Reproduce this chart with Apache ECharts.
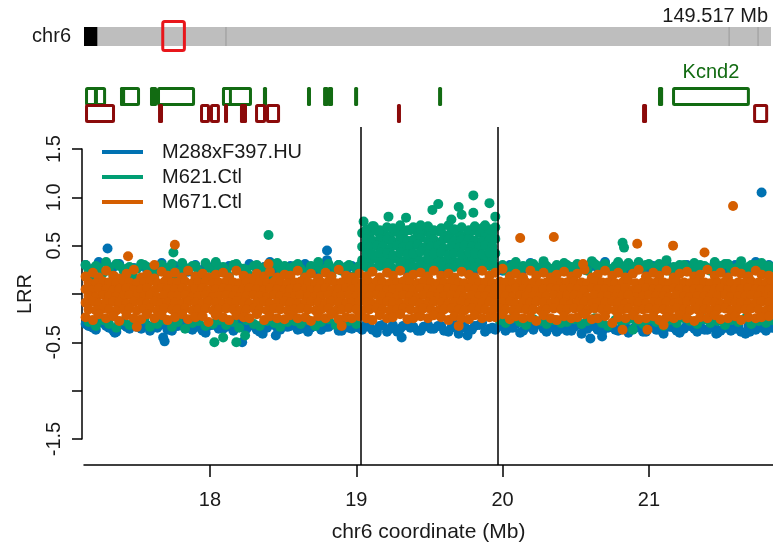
<!DOCTYPE html>
<html>
<head>
<meta charset="utf-8">
<script src="https://cdn.jsdelivr.net/npm/echarts@6/dist/echarts.min.js"></script>
<style>
  html, body { margin: 0; padding: 0; background: #fff; }
  #chart { width: 773px; height: 548px; }
</style>
</head>
<body>
<div id="chart"></div>
<script>
// ---------- data ----------
const chromName = 'chr6';
const chromLength = 149.517; // Mb
const chromDark = [0, 2.9];
const chromMarks = [30.9, 140.4, 146.7];
const viewRange = [17.139, 21.848];
const cnvBounds = [19.031, 19.972];
const xTicks = [18, 19, 20, 21];
const yLabelShown = [1.5, 1, 0.5, -0.5, -1.5];
const seriesNames = ['M288xF397.HU', 'M621.Ctl', 'M671.Ctl'];

// genes: [start, end, track (0 top / 1 bottom), label]
const genes = [
  [17.146, 17.29, 0], [17.207, 17.228, 0], [17.385, 17.522, 0], [17.385, 17.42, 0],
  [17.59, 17.638, 0], [17.638, 17.898, 0], [18.082, 18.287, 0], [18.082, 18.15, 0],
  [18.362, 18.39, 0], [18.663, 18.684, 0], [18.773, 18.81, 0], [18.805, 18.841, 0],
  [18.985, 19.005, 0], [19.559, 19.586, 0], [21.062, 21.097, 0], [21.158, 21.69, 0, 'Kcnd2'],
  [17.146, 17.351, 1], [17.645, 17.679, 1], [17.932, 18.0, 1], [18.0, 18.068, 1],
  [18.096, 18.123, 1], [18.205, 18.253, 1], [18.308, 18.383, 1], [18.383, 18.479, 1],
  [19.278, 19.299, 1], [20.953, 20.987, 1], [21.712, 21.815, 1]
];

// probe positions (Mb), two interleaved sets
const posA = [
  17.15, 17.20, 17.24, 17.29, 17.34, 17.38, 17.43, 17.48, 17.53, 17.57,
  17.62, 17.67, 17.71, 17.76, 17.81, 17.85, 17.90, 17.95, 17.99, 18.04,
  18.09, 18.13, 18.18, 18.23, 18.27, 18.32, 18.37, 18.41, 18.46, 18.51,
  18.55, 18.60, 18.65, 18.69, 18.74, 18.79, 18.83, 18.88, 18.93, 18.97,
  19.02, 19.07, 19.11, 19.16, 19.21, 19.25, 19.30, 19.35, 19.39, 19.44,
  19.49, 19.53, 19.58, 19.63, 19.67, 19.72, 19.77, 19.81, 19.86, 19.91,
  19.95, 20.00, 20.05, 20.09, 20.14, 20.19, 20.23, 20.28, 20.33, 20.37,
  20.42, 20.47, 20.51, 20.56, 20.61, 20.65, 20.70, 20.75, 20.79, 20.84,
  20.89, 20.93, 20.98, 21.03, 21.07, 21.12, 21.17, 21.21, 21.26, 21.31,
  21.35, 21.40, 21.45, 21.49, 21.54, 21.59, 21.63, 21.68, 21.73, 21.77,
  21.82
];
const posB = [
  17.17, 17.22, 17.27, 17.31, 17.36, 17.41, 17.45, 17.50, 17.55, 17.59,
  17.64, 17.69, 17.74, 17.78, 17.83, 17.88, 17.92, 17.97, 18.02, 18.06,
  18.11, 18.16, 18.20, 18.25, 18.30, 18.34, 18.39, 18.44, 18.48, 18.53,
  18.58, 18.62, 18.67, 18.72, 18.76, 18.81, 18.86, 18.90, 18.95, 19.00,
  19.04, 19.09, 19.14, 19.18, 19.23, 19.28, 19.32, 19.37, 19.42, 19.46,
  19.51, 19.56, 19.60, 19.65, 19.70, 19.74, 19.79, 19.84, 19.88, 19.93,
  19.98, 20.02, 20.07, 20.12, 20.16, 20.21, 20.26, 20.30, 20.35, 20.40,
  20.44, 20.49, 20.54, 20.58, 20.63, 20.68, 20.72, 20.77, 20.82, 20.86,
  20.91, 20.96, 21.00, 21.05, 21.10, 21.14, 21.19, 21.24, 21.28, 21.33,
  21.38, 21.42, 21.47, 21.52, 21.56, 21.61, 21.66, 21.70, 21.75, 21.80,
  21.84
];

// LRR x 100 ---- M671.Ctl (orange)
const orange1 = [ // posA, upper edge
  18, 22, 17, 24, 19, 16, 21, 25, 17, 20,
  16, 23, 19, 22, 17, 24, 18, 21, 17, 20,
  22, 17, 24, 19, 16, 21, 18, 23, 17, 20,
  19, 24, 17, 21, 16, 22, 18, 25, 19, 17,
  21, 18, 23, 17, 22, 19, 24, 17, 20, 22,
  18, 24, 19, 21, 17, 23, 20, 17, 24, 19,
  22, 26, 18, 21, 17, 24, 19, 22, 17, 20,
  23, 18, 21, 25, 17, 20, 24, 19, 22, 17,
  21, 25, 18, 22, 19, 24, 17, 21, 23, 18,
  20, 25, 19, 22, 17, 23, 21, 18, 24, 20,
  19
];
const orange2 = [ // posB
  12, 11, 13, 12, 11, 13, 12, 11, 12, 13,
  11, 13, 12, 12, 13, 11, 12, 13, 11, 12,
  13, 12, 11, 12, 13, 12, 11, 13, 12, 11,
  12, 13, 12, 11, 12, 13, 11, 12, 13, 12,
  11, 12, 13, 12, 11, 12, 13, 12, 11, 13,
  12, 11, 12, 13, 12, 11, 13, 12, 12, 11,
  13, 12, 11, 13, 12, 12, 11, 12, 13, 12,
  12, 13, 12, 11, 13, 12, 12, 11, 12, 13,
  11, 12, 13, 12, 12, 11, 13, 12, 11, 12,
  12, 11, 12, 13, 11, 12, 12, 13, 12, 11,
  12
];
const orange3 = [ // posA
  5, 4, 6, 5, 4, 5, 6, 4, 5, 6,
  4, 6, 5, 5, 6, 4, 5, 6, 4, 5,
  6, 5, 4, 5, 6, 5, 4, 6, 5, 4,
  5, 6, 5, 4, 5, 6, 4, 5, 6, 5,
  4, 5, 6, 5, 4, 5, 6, 5, 4, 6,
  5, 4, 5, 6, 5, 4, 6, 5, 5, 4,
  6, 5, 4, 6, 5, 5, 4, 5, 6, 5,
  5, 6, 5, 4, 6, 5, 5, 4, 5, 6,
  4, 5, 6, 5, 5, 4, 6, 5, 4, 5,
  5, 4, 5, 6, 4, 5, 5, 6, 5, 4,
  5
];
const orange4 = [ // posB
  -2, -3, -1, -2, -3, -2, -1, -3, -2, -1,
  -3, -1, -2, -2, -1, -3, -2, -1, -3, -2,
  -1, -2, -3, -2, -1, -2, -3, -1, -2, -3,
  -2, -1, -2, -3, -2, -1, -3, -2, -1, -2,
  -3, -2, -1, -2, -3, -2, -1, -2, -3, -1,
  -2, -3, -2, -1, -2, -3, -1, -2, -2, -3,
  -1, -2, -3, -1, -2, -2, -3, -2, -1, -2,
  -2, -1, -2, -3, -1, -2, -2, -3, -2, -1,
  -3, -2, -1, -2, -2, -3, -1, -2, -3, -2,
  -2, -3, -2, -1, -3, -2, -2, -1, -2, -3,
  -2
];
const orange5 = [ // posA
  -9, -8, -10, -9, -8, -9, -10, -8, -9, -10,
  -8, -10, -9, -9, -10, -8, -9, -10, -8, -9,
  -10, -9, -8, -9, -10, -9, -8, -10, -9, -8,
  -9, -10, -9, -8, -9, -10, -8, -9, -10, -9,
  -8, -9, -10, -9, -8, -9, -10, -9, -8, -10,
  -9, -8, -9, -10, -9, -8, -10, -9, -9, -8,
  -10, -9, -8, -10, -9, -9, -8, -9, -10, -9,
  -9, -10, -9, -8, -10, -9, -9, -8, -9, -10,
  -8, -9, -10, -9, -9, -8, -10, -9, -8, -9,
  -9, -8, -9, -10, -8, -9, -9, -10, -9, -8,
  -9
];
const orange6 = [ // posB
  -16, -17, -15, -16, -17, -16, -15, -17, -16, -15,
  -17, -15, -16, -16, -15, -17, -16, -15, -17, -16,
  -15, -16, -17, -16, -15, -16, -17, -15, -16, -17,
  -16, -15, -16, -17, -16, -15, -17, -16, -15, -16,
  -17, -16, -15, -16, -17, -16, -15, -16, -17, -15,
  -16, -17, -16, -15, -16, -17, -15, -16, -16, -17,
  -15, -16, -17, -15, -16, -16, -17, -16, -15, -16,
  -16, -15, -16, -17, -15, -16, -16, -17, -16, -15,
  -17, -16, -15, -16, -16, -17, -15, -16, -17, -16,
  -16, -17, -16, -15, -17, -16, -16, -15, -16, -17,
  -16
];
const orange7 = [ // posA, lower edge
  -24, -27, -21, -25, -23, -28, -22, -25, -26, -21,
  -25, -22, -27, -24, -21, -26, -24, -23, -29, -22,
  -24, -27, -22, -24, -25, -21, -27, -23, -25, -26,
  -22, -25, -24, -28, -23, -25, -21, -26, -24, -25,
  -23, -25, -27, -22, -25, -24, -21, -26, -25, -23,
  -25, -22, -24, -27, -23, -25, -26, -22, -25, -24,
  -24, -21, -26, -23, -25, -24, -28, -22, -25, -27,
  -23, -25, -24, -21, -26, -25, -23, -30, -24, -25,
  -22, -26, -25, -23, -27, -24, -25, -22, -25, -28,
  -24, -25, -22, -26, -25, -23, -27, -24, -25, -24,
  -23
];
const orangeExtra = [
  [17.44, 0.39], [17.76, 0.51], [20.12, 0.58], [20.35, 0.59], [20.92, 0.52],
  [21.165, 0.50], [21.38, 0.43], [21.575, 0.91], [20.82, -0.37], [20.99, -0.37],
  [18.40, 0.31], [17.50, -0.34], [18.90, -0.33], [17.62, 0.30], [20.55, 0.31],
  [19.70, -0.33], [21.10, -0.32]
];

// LRR x 100 ---- M288xF397.HU (blue)
const blueHi = [ // posA
  30, 26, 33, 24, 28, 31, 22, 27, 29, 25,
  27, 32, 24, 29, 26, 23, 30, 25, 28, 31,
  24, 29, 27, 22, 31, 26, 28, 33, 25, 27,
  29, 25, 31, 27, 23, 28, 26, 30, 24, 29,
  26, 28, 24, 30, 27, 25, 29, 23, 28, 26,
  25, 29, 27, 24, 30, 26, 28, 25, 27, 31,
  28, 24, 30, 27, 25, 32, 26, 29, 24, 28,
  31, 26, 28, 25, 29, 27, 33, 24, 28, 26,
  27, 30, 25, 29, 26, 31, 24, 28, 30, 25,
  29, 26, 32, 27, 24, 30, 28, 25, 33, 27,
  30
];
const blueLo = [ // posA
  -31, -35, -28, -33, -38, -30, -34, -29, -36, -32,
  -34, -30, -37, -32, -29, -35, -31, -38, -33, -30,
  -36, -32, -29, -34, -31, -37, -33, -30, -35, -32,
  -33, -37, -31, -35, -29, -34, -32, -38, -30, -36,
  -35, -31, -37, -33, -39, -32, -36, -30, -34, -38,
  -32, -36, -33, -39, -31, -35, -37, -33, -30, -36,
  -37, -33, -35, -31, -38, -34, -30, -36, -33, -39,
  -34, -38, -32, -36, -33, -37, -35, -31, -38, -34,
  -36, -32, -39, -34, -37, -33, -35, -40, -32, -36,
  -33, -37, -34, -38, -31, -36, -39, -33, -37, -35,
  -34
];
const blueLo2 = [ // posB
  -33, -37, -30, -35, -39, -32, -36, -34, -31, -38,
  -35, -32, -38, -33, -30, -37, -34, -40, -32, -36,
  -34, -38, -31, -36, -33, -39, -35, -32, -37, -34,
  -32, -36, -39, -33, -37, -34, -31, -38, -35, -33,
  -37, -34, -40, -32, -36, -39, -33, -35, -38, -34,
  -36, -33, -38, -35, -41, -34, -37, -32, -39, -35,
  -33, -38, -35, -40, -34, -37, -32, -39, -35, -36,
  -38, -34, -41, -36, -33, -39, -35, -37, -32, -40,
  -35, -39, -33, -37, -41, -34, -38, -36, -33, -39,
  -37, -34, -40, -35, -38, -33, -41, -36, -34, -38,
  -35
];
const blueExtra = [
  [17.30, 0.47], [18.80, 0.45], [18.80, 0.35], [21.77, 1.05], [17.35, -0.40],
  [17.68, -0.45], [18.36, -0.41], [18.45, -0.43], [19.14, -0.38], [19.31, -0.45],
  [19.76, -0.43], [20.60, -0.46], [20.68, -0.44], [21.46, -0.41], [21.69, -0.39],
  [17.69, -0.49], [18.22, -0.50]
];

// LRR x 100 ---- M621.Ctl (green)
const greenHi = [ // posB
  25, 29, 22, 27, 31, 24, 28, 26, 30, 23,
  28, 25, 31, 23, 27, 29, 24, 32, 26, 28,
  24, 30, 27, 25, 29, 22, 28, 31, 26, 24,
  29, 26, 23, 28, 25, 31, 27, 24, 30, 26,
  63, 61, 65, 62, 60, 64, 62, 66, 61, 64,
  62, 65, 61, 64, 63, 60, 65, 63, 61, 64,
  27, 24, 30, 26, 28, 31, 25, 29, 23, 27,
  30, 26, 28, 24, 31, 27, 25, 29, 26, 32,
  25, 28, 31, 26, 29, 24, 27, 30, 25, 28,
  29, 24, 27, 31, 26, 28, 25, 30, 27, 24,
  27
];
const greenHi2 = [ // posA
  30, 18, 27, 33, 19, 29, 26, 17, 31, 28,
  19, 30, 27, 18, 32, 26, 29, 19, 27, 33,
  28, 18, 31, 26, 19, 30, 27, 18, 32, 29,
  27, 31, 18, 29, 33, 26, 19, 30, 28, 18,
  29, 67, 70, 66, 69, 68, 71, 66, 69, 67,
  70, 66, 68, 71, 67, 69, 66, 70, 68, 67,
  69, 30, 27, 33, 29, 31, 28, 34, 26, 30,
  32, 28, 31, 27, 34, 29, 31, 26, 33, 29,
  28, 33, 30, 27, 31, 35, 28, 30, 26, 32,
  30, 27, 33, 29, 31, 26, 34, 28, 30, 32,
  29
];
const greenLo = [ // posB
  -29, -33, -27, -31, -35, -28, -32, -30, -26, -34,
  -31, -27, -34, -29, -36, -30, -28, -33, -31, -27,
  -32, -29, -35, -27, -31, -33, -28, -30, -34, -29,
  -28, -31, -27, -33, -29, -26, -32, -30, -28, -31,
  35, 34, 36, 35, 33, 36, 34, 35, 37, 34,
  35, 36, 34, 35, 33, 36, 35, 34, 36, 35,
  -27, -30, -25, -29, -32, -26, -28, -31, -27, -30,
  -29, -26, -31, -28, -25, -30, -33, -27, -29, -26,
  -28, -31, -26, -29, -33, -27, -30, -25, -28, -31,
  -26, -30, -28, -32, -27, -29, -25, -31, -28, -30,
  -27
];
// gained segment, probes inside cnvBounds
const greenCnv1 = [56, 55, 57, 56, 54, 57, 55, 56, 58, 55, 56, 54, 57, 55, 56, 57, 55, 54, 56, 57]; // posA
const greenCnv2 = [49, 48, 50, 49, 47, 50, 48, 49, 51, 48, 49, 50, 47, 49, 48, 50, 49, 48, 50, 49]; // posB
const greenCnv3 = [42, 41, 43, 42, 40, 43, 41, 42, 44, 41, 42, 43, 40, 42, 41, 43, 42, 41, 43, 42]; // posA
const greenCnv4 = [28, 27, 29, 28, 26, 29, 27, 28, 30, 27, 28, 29, 26, 28, 27, 29, 28, 27, 29, 28]; // posA
const greenExtra = [
  [17.75, 0.43], [18.40, 0.61], [20.82, 0.53], [20.83, 0.48], [18.03, -0.50],
  [18.09, -0.45], [18.18, -0.50], [18.24, -0.43], [20.89, -0.37],
  [19.05, 0.75], [19.22, 0.80], [19.34, 0.79], [19.52, 0.87], [19.56, 0.93],
  [19.65, 0.77], [19.70, 0.90], [19.72, 0.82], [19.80, 1.02], [19.80, 0.84],
  [19.91, 0.94], [19.95, 0.80], [19.12, 0.70], [19.44, 0.71], [19.88, 0.71]
];

// ---------- build ----------
const FONT = "'Liberation Sans', Arial, Helvetica, sans-serif";
const TXT = '#1a1a1a';
const COLORS = ['#0072B2', '#009E73', '#D55E00'];
const GENE_COLORS = ['#126B12', '#8B0A0A'];

const rows = (xs, ys) => ys.map((v, i) => [xs[i], v / 100]);
const inCnv = (x) => x > cnvBounds[0] && x < cnvBounds[1];
const cnvA = posA.filter(inCnv);
const cnvB = posB.filter(inCnv);

const blueData = [
  ...rows(posA, blueHi), ...rows(posA, blueLo), ...rows(posB, blueLo2), ...blueExtra,
];
const greenData = [
  ...rows(posB, greenHi), ...rows(posA, greenHi2), ...rows(posB, greenLo),
  ...rows(cnvA, greenCnv1), ...rows(cnvB, greenCnv2), ...rows(cnvA, greenCnv3), ...rows(cnvA, greenCnv4),
  ...greenExtra,
];
const orangeData = [
  ...rows(posA, orange1), ...rows(posB, orange2), ...rows(posA, orange3), ...rows(posB, orange4),
  ...rows(posA, orange5), ...rows(posB, orange6), ...rows(posA, orange7),
  ...orangeExtra,
];

const ideoItems = [
  [0, chromLength, 0, 0],
  [chromDark[0], chromDark[1], 1, 0],
  ...chromMarks.map((m) => [m, m, 2, 0]),
  [viewRange[0], viewRange[1], 3, 0],
];

const chart = echarts.init(document.getElementById('chart'), null, { renderer: 'canvas' });

const scatterBase = {
  type: 'scatter',
  xAxisIndex: 2,
  yAxisIndex: 2,
  symbol: 'circle',
  symbolSize: 10,
  silent: true,
  large: false,
  progressive: 0,
};

const dotStyle = (c) => ({ color: c, opacity: 1, borderWidth: 0 });

const option = {
  animation: false,
  backgroundColor: '#fff',
  textStyle: { fontFamily: FONT },
  grid: [
    { left: 84, right: 2, top: 20, height: 32, outerBoundsMode: 'none' },
    { left: 84, right: 0, top: 87, height: 36, outerBoundsMode: 'none' },
    { left: 84, right: 0, top: 127, height: 338, outerBoundsMode: 'none' },
    { left: 84, right: 0, top: 149, height: 290, outerBoundsMode: 'none' },
  ],
  xAxis: [
    { gridIndex: 0, type: 'value', min: 0, max: chromLength, show: false },
    { gridIndex: 1, type: 'value', min: viewRange[0], max: viewRange[1], show: false },
    {
      gridIndex: 2, type: 'value', min: viewRange[0], max: viewRange[1],
      position: 'bottom',
      axisLine: { show: true, onZero: false, lineStyle: { color: '#000', width: 1.5 } },
      axisTick: { show: true, length: 12, customValues: xTicks, lineStyle: { color: '#000', width: 1.5 } },
      axisLabel: { customValues: xTicks, fontSize: 20, color: TXT, margin: 25, fontFamily: FONT },
      splitLine: { show: false },
      name: 'chr6 coordinate (Mb)',
      nameLocation: 'middle',
      nameGap: 57,
      nameTextStyle: { fontSize: 21, color: TXT, fontFamily: FONT },
    },
    { gridIndex: 3, type: 'value', min: viewRange[0], max: viewRange[1], show: false },
  ],
  yAxis: [
    {
      gridIndex: 0, type: 'category', data: [chromName],
      axisLine: { show: false }, axisTick: { show: false }, splitLine: { show: false },
      axisLabel: { fontSize: 20, color: TXT, margin: 13, fontFamily: FONT },
    },
    { gridIndex: 1, type: 'value', min: 0, max: 1, show: false },
    { gridIndex: 2, type: 'value', min: -1.769, max: 1.7275, show: false },
    {
      gridIndex: 3, type: 'value', min: -1.5, max: 1.5, interval: 0.5, offset: 2,
      axisLine: { show: true, lineStyle: { color: '#000', width: 1.5 } },
      axisTick: { show: true, length: 10, lineStyle: { color: '#000', width: 1.5 } },
      axisLabel: {
        rotate: 90, fontSize: 20, color: TXT, margin: 18, fontFamily: FONT,
        formatter: (v) => (yLabelShown.includes(v) ? v.toFixed(1) : ''),
      },
      splitLine: { show: false },
      name: 'LRR',
      nameLocation: 'middle',
      nameGap: 47,
      nameTextStyle: { fontSize: 20, color: TXT, fontFamily: FONT },
    },
  ],
  legend: {
    data: seriesNames,
    orient: 'vertical',
    left: 102,
    top: 142,
    padding: 0,
    icon: 'rect',
    itemWidth: 41,
    itemHeight: 4,
    itemGap: 5,
    selectedMode: false,
    itemStyle: { opacity: 1 },
    textStyle: { fontSize: 20, color: TXT, fontFamily: FONT, lineHeight: 20, padding: [0, 0, 0, 14] },
  },
  graphic: [
    {
      type: 'text',
      right: 5,
      top: 6,
      style: { text: chromLength.toFixed(3) + ' Mb', font: '20px ' + FONT, fill: TXT },
    },
  ],
  series: [
    {
      type: 'custom',
      xAxisIndex: 0,
      yAxisIndex: 0,
      silent: true,
      encode: { x: [0, 1], y: 3 },
      data: ideoItems,
      renderItem: (params, api) => {
        const cs = params.coordSys;
        const k = api.value(2);
        const x0 = api.coord([api.value(0), 0])[0];
        const x1 = api.coord([api.value(1), 0])[0];
        if (k === 0 || k === 1) {
          return { type: 'rect', shape: { x: x0, y: cs.y + 7, width: x1 - x0, height: 19 }, style: { fill: k ? '#000' : '#BEBEBE' } };
        }
        if (k === 2) {
          return { type: 'line', shape: { x1: x0, y1: cs.y + 7, x2: x0, y2: cs.y + 26 }, style: { stroke: '#999', lineWidth: 1 } };
        }
        return { type: 'rect', z2: 10, shape: { x: x0, y: cs.y + 1.5, width: x1 - x0, height: 29, r: 2 }, style: { fill: null, stroke: '#E8161B', lineWidth: 3 } };
      },
    },
    {
      type: 'custom',
      xAxisIndex: 1,
      yAxisIndex: 1,
      silent: true,
      encode: { x: [0, 1], y: 2 },
      data: genes.map((g) => [g[0], g[1], g[2]]),
      renderItem: (params, api) => {
        const g = genes[params.dataIndex];
        const cs = params.coordSys;
        const x0 = api.coord([g[0], 0])[0];
        const x1 = api.coord([g[1], 0])[0];
        const top = cs.y + g[2] * 17;
        const color = GENE_COLORS[g[2]];
        const w = x1 - x0;
        const children = [];
        if (w < 9) {
          children.push({ type: 'rect', shape: { x: x0, y: top, width: Math.max(w, 4), height: 19, r: 1.5 }, style: { fill: color } });
        } else {
          children.push({ type: 'rect', shape: { x: x0 + 1.5, y: top + 1.5, width: w - 3, height: 16, r: 1 }, style: { fill: null, stroke: color, lineWidth: 3 } });
        }
        if (g[3]) {
          children.push({
            type: 'text',
            x: (x0 + x1) / 2,
            y: top - 15,
            style: { text: g[3], fill: color, font: '20px ' + FONT, align: 'center', verticalAlign: 'middle' },
          });
        }
        return { type: 'group', children };
      },
    },
    { ...scatterBase, name: seriesNames[0], data: blueData, itemStyle: dotStyle(COLORS[0]) },
    { ...scatterBase, name: seriesNames[1], data: greenData, itemStyle: dotStyle(COLORS[1]) },
    {
      ...scatterBase,
      name: seriesNames[2],
      data: orangeData,
      itemStyle: dotStyle(COLORS[2]),
      markLine: {
        silent: true,
        symbol: 'none',
        label: { show: false },
        lineStyle: { color: '#000', width: 1.5, type: 'solid', opacity: 1 },
        data: cnvBounds.map((b) => ({ xAxis: b })),
      },
    },
  ],
};

chart.setOption(option);
</script>
</body>
</html>
